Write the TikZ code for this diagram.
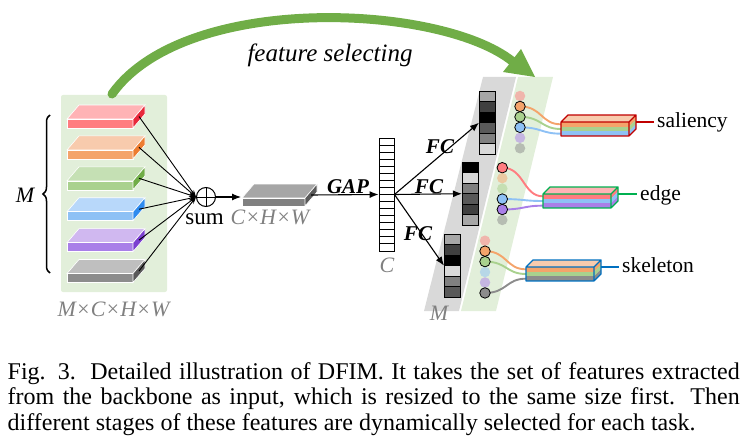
\documentclass[tikz,border=0pt]{standalone}
\usepackage{fontspec}
\setmainfont{Liberation Serif}
\usetikzlibrary{arrows.meta,decorations.pathreplacing,calc}
\definecolor{panelgreen}{HTML}{E2EFDA}
\definecolor{bandgray}{HTML}{D9D9D9}
\definecolor{arrowgreen}{HTML}{70AD47}
\definecolor{lblgray}{HTML}{808080}
\definecolor{cred}{HTML}{FF7C80}
\definecolor{corange}{HTML}{F4A46B}
\definecolor{cgreen}{HTML}{A9D18E}
\definecolor{cblue}{HTML}{8EC1F5}
\definecolor{cpurple}{HTML}{A97FE8}
\definecolor{cgray}{HTML}{8C8C8C}
\definecolor{tred}{HTML}{FFB3B5}
\definecolor{torange}{HTML}{F8CBAD}
\definecolor{tgreen}{HTML}{C5E0B4}
\definecolor{tblue}{HTML}{B8D8FA}
\definecolor{tpurple}{HTML}{D0B8F0}
\definecolor{tgray}{HTML}{BFBFBF}
\definecolor{sred}{HTML}{E8283B}
\definecolor{sorange}{HTML}{ED7D31}
\definecolor{sgreen}{HTML}{70AD47}
\definecolor{sblue}{HTML}{2E8BEF}
\definecolor{spurple}{HTML}{7B3FD0}
\definecolor{sgray}{HTML}{595959}
\definecolor{bred}{HTML}{C00000}
\definecolor{bgreen}{HTML}{00B050}
\definecolor{bblue}{HTML}{0070C0}
\newcommand{\myslab}[8]{%
  \fill[#6, draw=white, line width=0.6pt] (#2,#3) -- ++(12,-14) -- ++(#4,0) -- ++(-12,14) -- cycle;
  \fill[#7, draw=white, line width=0.6pt] (#2,#3) rectangle ++(#4,#5);
  \fill[#8, draw=white, line width=0.6pt] (#2+#4,#3) -- ++(12,-14) -- ++(0,#5) -- ++(-12,14) -- cycle;
  \coordinate (#1) at (#2+#4+6,#3-7+#5/2);
}
\newcommand{\myvec}[9]{%
  \node[minimum width=16pt, minimum height=63pt, inner sep=0, anchor=north west] (#1) at (#2,#3) {};
  \foreach \c [count=\i from 0] in {#4,#5,#6,#7,#8,#9} {
    \filldraw[fill=\c, draw=black, line width=0.9pt] (#2,#3+\i*10.5) rectangle ++(16,10.5);
  }
}
\newcommand{\outbox}[8]{%
  \fill[#4] (#2,#3) -- ++(7,-7) -- ++(68,0) -- ++(-7,7) -- cycle;
  \fill[#5] (#2,#3) rectangle ++(68,14/3);
  \fill[#6] (#2,#3+14/3) rectangle ++(68,14/3);
  \fill[#7] (#2,#3+28/3) rectangle ++(68,14/3);
  \fill[#5] (#2+68,#3) -- ++(7,-7) -- ++(0,14/3) -- ++(-7,7) -- cycle;
  \fill[#6] (#2+68,#3+14/3) -- ++(7,-7) -- ++(0,14/3) -- ++(-7,7) -- cycle;
  \fill[#7] (#2+68,#3+28/3) -- ++(7,-7) -- ++(0,14/3) -- ++(-7,7) -- cycle;
  \draw[#8, line width=1.4pt, line join=round] (#2,#3) rectangle ++(68,14)
     (#2,#3) -- ++(7,-7) -- ++(68,0) -- ++(-7,7)
     (#2+75,#3-7) -- ++(0,14) -- ++(-7,7);
  \coordinate (#1-1) at (#2,#3+14/6);
  \coordinate (#1-2) at (#2,#3+14/2);
  \coordinate (#1-3) at (#2,#3+70/6);
  \coordinate (#1-r) at (#2+75,#3);
}
\begin{document}
\begin{tikzpicture}[x=1pt,y=-1pt,
  sarrow/.style={line width=0.9pt, -{Stealth[length=7pt,width=4.5pt]}},
  farrow/.style={line width=1.1pt, -{Latex[length=9pt,width=7pt]}},
  dsolid/.style={circle, draw=black, line width=0.8pt, minimum size=10.5pt, inner sep=0},
  dfaded/.style={circle, draw=none, fill opacity=0.5, minimum size=10.5pt, inner sep=0},
  cur/.style={line width=1.9pt},
  glbl/.style={text=lblgray, font=\fontsize{22}{24}\selectfont\itshape, inner sep=0},
  bilbl/.style={font=\fontsize{21}{23}\selectfont\bfseries\itshape, inner sep=0},
  tasklbl/.style={font=\fontsize{21.5}{23}\selectfont, inner sep=0, anchor=base west}]
\useasboundingbox (0,0) rectangle (750,444);

% left panel
\fill[panelgreen, rounded corners=2pt] (61,95) rectangle (167,292);
\myslab{s1}{67}{119}{66}{9}{tred}{cred}{sred}
\myslab{s2}{67}{149.9}{66}{9}{torange}{corange}{sorange}
\myslab{s3}{67}{180.8}{66}{9}{tgreen}{cgreen}{sgreen}
\myslab{s4}{67}{211.7}{66}{9}{tblue}{cblue}{sblue}
\myslab{s5}{67}{242.6}{66}{9}{tpurple}{cpurple}{spurple}
\myslab{s6}{67}{273.5}{66}{9}{tgray}{cgray}{sgray}

% brace and labels
\draw[decorate, decoration={brace, amplitude=7pt}, line width=1.5pt] (50,273) -- (50,115);
\node[font=\fontsize{22}{24}\selectfont\itshape, inner sep=0] (mlbl) at (25,195) {M};
\node[glbl, anchor=base] (mchw) at (113.5,316) {M×C×H×W};

% sum
\node[draw, circle, minimum size=19pt, inner sep=0, line width=1pt] (oplus) at (206,197) {};
\draw[line width=1pt] (oplus.north) -- (oplus.south) (oplus.west) -- (oplus.east);
\foreach \s in {s1,s2,s3,s4,s5,s6} \draw[sarrow] (\s) -- (oplus.west);
\node[font=\fontsize{23}{25}\selectfont, inner sep=0, anchor=base] (sumlbl) at (204.5,224) {sum};

% gray slab
\myslab{gs}{242}{198}{63}{8}{black!35}{black!50}{black!65}
\draw[farrow] (oplus.east) -- (241,197);
\node[glbl, anchor=base] (chw) at (270,224) {C×H×W};

% column C
\node[draw, line width=0.9pt, fill=white, minimum width=15pt, minimum height=113pt, inner sep=0] (col) at (386.5,194.5) {};
\foreach \i in {1,...,15} \draw[line width=0.9pt] (379,138+\i*7.0625) -- ++(15,0);
\node[glbl, anchor=base] (clbl) at (387,272) {C};
\draw[farrow] (gs) -- (col.west);
\node[bilbl, anchor=base] (gap) at (348,193) {GAP};

% bands
\fill[bandgray] (483,77) -- (516,77) -- (459,311) -- (424,311) -- cycle;
\fill[panelgreen] (518,77) -- (553,77) -- (496,311) -- (461,311) -- cycle;
\node[glbl, anchor=base] (mb) at (439,320) {M};

% vectors
\myvec{v1}{479}{91}{black!35}{black!75}{black}{black!65}{black!50}{black!15}
\myvec{v2}{462}{162}{black}{black!15}{black!50}{black!65}{black!75}{black!35}
\myvec{v3}{444}{234}{black!35}{black!75}{black}{black!15}{black!50}{black!65}
\draw[farrow] (col.east) -- (v1.west);
\draw[farrow] (col.east) -- (v2.west);
\draw[farrow] (col.east) -- (v3.west);
\node[bilbl, anchor=base] (fc1) at (440,153) {FC};
\node[bilbl, anchor=base] (fc2) at (429,193) {FC};
\node[bilbl, anchor=base] (fc3) at (418,240) {FC};

% dot coordinates
\foreach \n [count=\i from 0] in {r,o,g,b,p,k} {
  \coordinate (A\n) at (520,96+\i*10.45);
  \coordinate (B\n) at (502.3,167.7+\i*10.45);
  \coordinate (C\n) at (485,240.7+\i*10.45);
}
% box anchor coordinates (needed by curves)
\coordinate (sal-1) at (561,124.33);
\coordinate (sal-2) at (561,129);
\coordinate (sal-3) at (561,133.67);
\coordinate (edg-1) at (543,196.33);
\coordinate (edg-2) at (543,201);
\coordinate (edg-3) at (543,205.67);
\coordinate (ske-1) at (526,269.33);
\coordinate (ske-2) at (526,274);
\coordinate (ske-3) at (526,278.67);
% curves
\draw[cur, corange] (Ao) .. controls +(22,0) and +(-20,0) .. (sal-1);
\draw[cur, cgreen] (Ag) .. controls +(22,0) and +(-20,0) .. (sal-2);
\draw[cur, cblue] (Ab) .. controls +(22,0) and +(-20,0) .. (sal-3);
\draw[cur, cred] (Br) .. controls +(22,0) and +(-20,0) .. (edg-1);
\draw[cur, cblue] (Bb) .. controls +(22,0) and +(-20,0) .. (edg-2);
\draw[cur, cpurple] (Bp) .. controls +(22,0) and +(-20,0) .. (edg-3);
\draw[cur, corange] (Co) .. controls +(22,0) and +(-20,0) .. (ske-1);
\draw[cur, cgreen] (Cg) .. controls +(22,0) and +(-20,0) .. (ske-2);
\draw[cur, cgray] (Ck) .. controls +(22,0) and +(-20,0) .. (ske-3);
% output boxes
\outbox{sal}{561}{122}{torange}{corange}{cgreen}{cblue}{bred}
\outbox{edg}{543}{194}{tred}{cred}{cblue}{cpurple}{bgreen}
\outbox{ske}{526}{267}{torange}{corange}{cgreen}{cgray}{bblue}
% dots
\foreach \n/\col/\st in {r/cred/dfaded, o/corange/dsolid, g/cgreen/dsolid, b/cblue/dsolid, p/cpurple/dfaded, k/cgray/dfaded}
  \node[\st, fill=\col] (dA\n) at (A\n) {};
\foreach \n/\col/\st in {r/cred/dsolid, o/corange/dfaded, g/cgreen/dfaded, b/cblue/dsolid, p/cpurple/dsolid, k/cgray/dfaded}
  \node[\st, fill=\col] (dB\n) at (B\n) {};
\foreach \n/\col/\st in {r/cred/dfaded, o/corange/dsolid, g/cgreen/dsolid, b/cblue/dfaded, p/cpurple/dfaded, k/cgray/dsolid}
  \node[\st, fill=\col] (dC\n) at (C\n) {};

% task labels
\node[tasklbl] (salt) at (657,128) {saliency};
\node[tasklbl] (edgt) at (640,200) {edge};
\node[tasklbl] (sket) at (622,272) {skeleton};
\draw[bred, line width=1.4pt] (sal-r) -- ($(sal-r -| salt.west)+(-3,0)$);
\draw[bgreen, line width=1.4pt] (edg-r) -- ($(edg-r -| edgt.west)+(-3,0)$);
\draw[bblue, line width=1.4pt] (ske-r) -- ($(ske-r -| sket.west)+(-3,0)$);

% big green arrow
\coordinate (gstart) at (112,94);
\coordinate (gend) at (512,61);
\draw[arrowgreen, line width=9pt, line cap=round] (gstart) .. controls (185,-8) and (440,4) .. (gend);
\fill[arrowgreen] (503,72) -- (521,49) -- (535,77) -- cycle;
\node[font=\fontsize{25}{27}\selectfont\itshape, inner sep=0, anchor=base] (fsel) at (330,62) {feature selecting};

% caption
\node[anchor=base west, inner sep=0, font=\fontsize{24}{27}\selectfont] (cap1) at (7.5,379)
  {\hbox to 732pt{Fig. 3.\hskip 0.6em Detailed illustration of DFIM. It takes the set of features extracted}};
\node[anchor=base west, inner sep=0, font=\fontsize{24}{27}\selectfont] (cap2) at (7.5,404.5)
  {\hbox to 732pt{from the backbone as input, which is resized to the same size first. Then}};
\node[anchor=base west, inner sep=0, font=\fontsize{24}{27}\selectfont] (cap3) at (7.5,430)
  {different stages of these features are dynamically selected for each task.};
\end{tikzpicture}
\end{document}
